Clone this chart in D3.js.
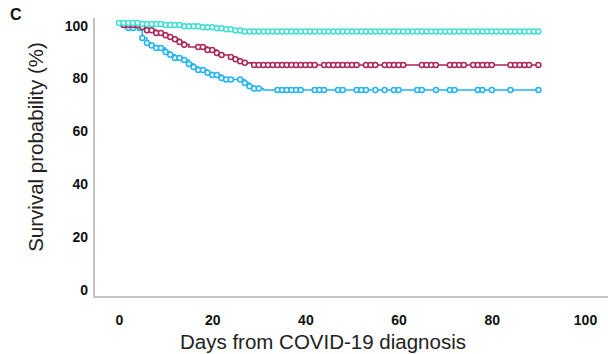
<!DOCTYPE html>
<html><head><meta charset="utf-8">
<script src="https://cdn.jsdelivr.net/npm/d3@7"></script>
<style>body{margin:0;background:#fff}svg{display:block}</style>
</head><body>
<script>
// Tick labels
const xTicks = [0, 20, 40, 60, 80, 100];
const yTicks = [0, 20, 40, 60, 80, 100];

// Kaplan-Meier steps: [day, survival %]
const cyanSteps = [[0,100],[5,99.6],[10,99.2],[14,98.8],[18,98.4],[21,98.0],[23,97.6],[25,97.2],[27,96.8],[90,96.8]];
const maroonSteps = [[0,100],[1,99.2],[5,98.5],[6,97.3],[8,96.2],[10,95.4],[11,94.7],[12,93.8],[13,92.8],[14,91.8],[15,90.9],[19,89.8],[21,88.6],[22,87.9],[24,87.1],[25,86.3],[26,85.5],[27,84.9],[29,84.1],[90,84.1]];
const blueSteps = [[0,100],[1,99.2],[2,98.1],[4,97.3],[5,94.3],[6,92.4],[7,91.5],[8,90.5],[10,89.0],[11,88.0],[12,86.7],[14,86.0],[15,84.5],[16,83.3],[17,82.2],[19,81.2],[20,80.3],[22,79.2],[23,78.6],[27,77.3],[28,76.0],[29,75.2],[31,74.6],[90,74.6]];

// Censoring marks (days)
const cyanCensor = [0,1,2,3,4,5,6,7,8,9,10,11,12,13,14,15,16,17,18,19,20,21,22,23,24,25,26,27,28,29,30,31,32,33,34,35,36,37,38,39,40,41,42,43,44,45,46,47,48,49,50,51,52,53,54,55,56,57,58,59,60,61,62,63,64,65,66,67,68,69,70,71,72,73,74,75,76,77,78,79,80,81,82,83,84,85,86,87,88,89,90];
const maroonCensor = [1,2,3,4,5,6,7,8,9,10,11,12,13,14,17,18,19,20,21,22,24,25,26,27,29,30,31,32,33,34,35,36,37,38,39,40,41,42,44,45,46,47,48,49,50,51,53,54,55,57,58,59,60,61,65,66,67,68,71,72,73,74,76,77,78,79,80,84,85,86,87,88,90];
const blueCensor = [1,2,3,5,6,7,8,9,10,11,12,13,14,15,16,17,18,19,20,21,22,23,24,26,27,28,29,30,34,35,36,37,38,39,42,43,44,47,48,51,52,53,55,57,59,60,64,65,68,71,72,77,78,80,84,90];

const seriesColors = ["#3fe0d2", "#ad2659", "#22b4f2"];

const W = 608, H = 354;
const svg = d3.select("body").append("svg").attr("width", W).attr("height", H);

const x = d3.scaleLinear().domain([0, 100]).range([119, 585]);
const y = d3.scaleLinear().domain([0, 100]).range([287, 23]);

// frame lines
svg.append("line").attr("x1", 94).attr("x2", 94).attr("y1", 18).attr("y2", 298)
  .attr("stroke", "#c4c4c4").attr("stroke-width", 2);
svg.append("line").attr("x1", 93).attr("x2", 608).attr("y1", 297).attr("y2", 297)
  .attr("stroke", "#c4c4c4").attr("stroke-width", 2);

// axes
const yAx = svg.append("g").attr("transform", "translate(94,0)")
  .call(d3.axisLeft(y).tickValues(yTicks).tickSize(0).tickPadding(6));
yAx.select(".domain").remove();
yAx.selectAll("text").attr("dy", "0.5em")
  .style("font-family", "Liberation Sans, Arial, sans-serif").style("font-weight", "bold")
  .style("font-size", "14px").attr("fill", "#111");

const xAx = svg.append("g").attr("transform", "translate(0,297)")
  .call(d3.axisBottom(x).tickValues(xTicks).tickSize(0).tickPadding(18));
xAx.select(".domain").remove();
xAx.selectAll("text")
  .style("font-family", "Liberation Sans, Arial, sans-serif").style("font-weight", "bold")
  .style("font-size", "14px").attr("fill", "#111");

// titles
svg.append("text").attr("x", 323).attr("y", 349).attr("text-anchor", "middle")
  .style("font-family", "Liberation Sans, Arial, sans-serif").style("font-size", "20.5px").attr("fill", "#222")
  .text("Days from COVID-19 diagnosis");
svg.append("text").attr("transform", "translate(43,147) rotate(-90)").attr("text-anchor", "middle")
  .style("font-family", "Liberation Sans, Arial, sans-serif").style("font-size", "20.5px").attr("fill", "#222")
  .text("Survival probability (%)");
svg.append("text").attr("x", 10).attr("y", 20)
  .style("font-family", "Liberation Sans, Arial, sans-serif").style("font-weight", "bold")
  .style("font-size", "16px").attr("fill", "#111").text("C");

function survAt(steps, d) {
  let v = steps[0][1];
  for (const s of steps) if (s[0] <= d) v = s[1];
  return v;
}

const series = [
  {steps: cyanSteps, censor: cyanCensor, color: seriesColors[0]},
  {steps: maroonSteps, censor: maroonCensor, color: seriesColors[1]},
  {steps: blueSteps, censor: blueCensor, color: seriesColors[2]}
];

const line = d3.line().x(d => x(d[0])).y(d => y(d[1])).curve(d3.curveStepAfter);

// draw in order: blue, maroon, cyan on top
[2, 1, 0].forEach(i => {
  const s = series[i];
  const g = svg.append("g");
  g.append("path").datum(s.steps).attr("d", line).attr("fill", "none")
    .attr("stroke", s.color).attr("stroke-width", 1.6);
  g.selectAll("circle").data(s.censor).join("circle")
    .attr("cx", d => x(d)).attr("cy", d => y(survAt(s.steps, d)))
    .attr("r", 2.5).attr("fill", "#fff").attr("stroke", s.color).attr("stroke-width", 1.5);
});
</script>
</body></html>
